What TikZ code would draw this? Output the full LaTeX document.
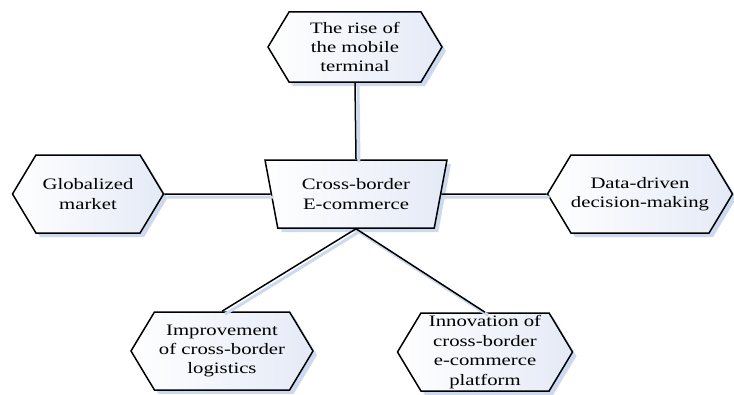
\documentclass[tikz,border=0pt]{standalone}
\usepackage{fontspec}
\setmainfont[FakeStretch=1.3]{Liberation Serif}
\usetikzlibrary{shapes.symbols,shapes.geometric,shadows}
\definecolor{shadowblue}{RGB}{205,217,238}
\definecolor{fillblue}{RGB}{228,234,246}

\begin{document}
\begin{tikzpicture}
        [x=1bp,y=1bp,
        box/.style={draw,line width=1.5bp,align=center,inner sep=0pt,
            font=\fontsize{16}{19.5}\selectfont,
            left color=white,right color=fillblue,
            drop shadow={shadow xshift=4bp,shadow yshift=-4bp,fill=shadowblue,opacity=1}},
        hexa/.style={box,signal,signal to=west and east,signal pointer angle=118,
            minimum height=78bp},
        trap/.style={box,trapezium,trapezium stretches=true,shape border rotate=180,
            trapezium left angle=74,trapezium right angle=74},
        link/.style={line width=1.5bp,
            preaction={draw=shadowblue,line width=3bp,transform canvas={xshift=3bp,yshift=-3bp}}}]
        \useasboundingbox (0,0) rectangle (734,394);
        % centre
        \node[trap,minimum width=182bp,minimum height=68bp] (ce) at (356,200) {Cross-border\\E-commerce};
        % around it
        \node[hexa,minimum width=174bp,minimum height=70bp] (mob) at (355,347) {The rise of\\the mobile\\terminal};
        \node[hexa,minimum width=151bp] (glo) at (88,200) {Globalized\\market};
        \node[hexa,minimum width=184bp] (dat) at (640,200) {Data-driven\\decision-making};
        \node[hexa,minimum width=182bp] (log) at (222,43) {Improvement\\of cross-border\\logistics};
        \node[hexa,minimum width=175bp] (pla) at (485,42) {Innovation of\\cross-border\\e-commerce\\platform};
        % connectors
        \draw[link] (mob.south) -- (ce.north);
        \draw[link] (glo.east) -- (ce.west);
        \draw[link] (ce.east) -- (dat.west);
        \draw[link] (ce.south) -- (log.north);
        \draw[link] (ce.south) -- (pla.north);
\end{tikzpicture}
\end{document}
